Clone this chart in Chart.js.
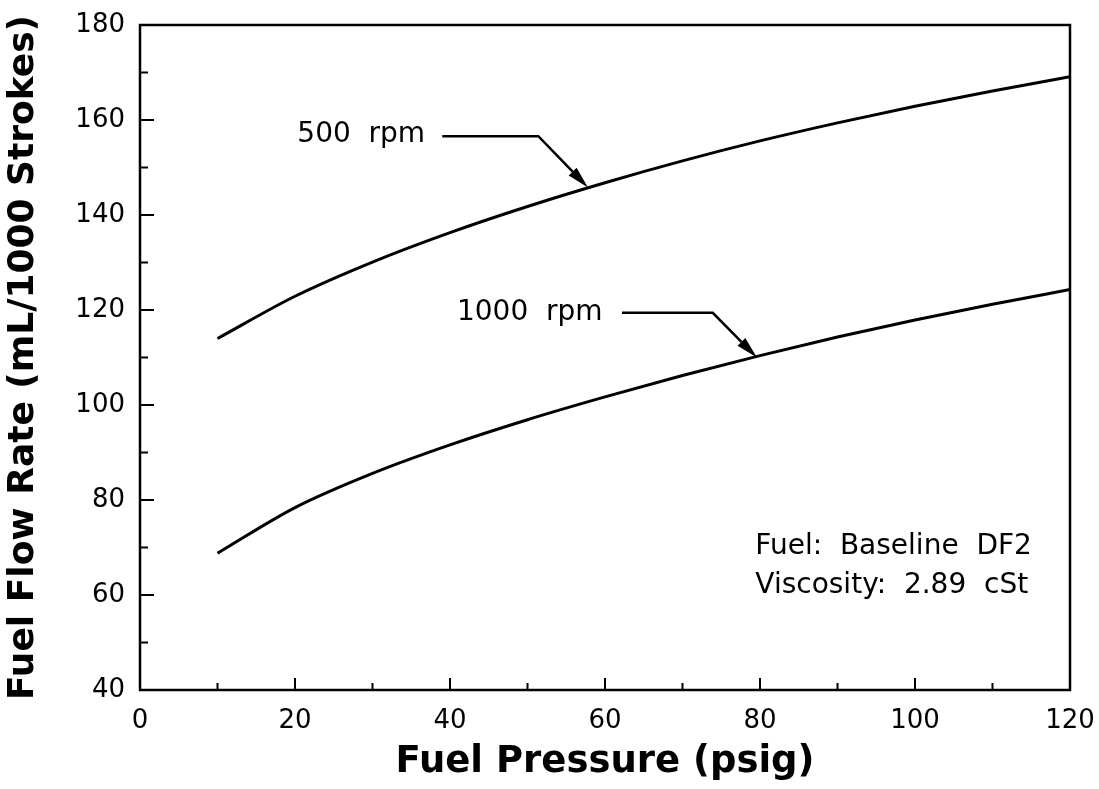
<!DOCTYPE html>
<html>
<head>
<meta charset="utf-8">
<script src="https://cdn.jsdelivr.net/npm/chart.js@4/dist/chart.umd.min.js"></script>
<style>
  html, body { margin: 0; padding: 0; background: #fff; }
  #wrap { width: 1099px; height: 789px; }
</style>
</head>
<body>
<div id="wrap"><canvas id="c" width="1099" height="789"></canvas></div>
<script>
// ---- data ----
const pressure = [10, 20, 30, 40, 50, 60, 70, 80, 90, 100, 110, 120];
const rpm500  = [114.0, 122.9, 130.1, 136.3, 141.8, 146.8, 151.4, 155.6, 159.4, 162.9, 166.1, 169.1];
const rpm1000 = [68.8, 78.4, 85.6, 91.6, 96.9, 101.7, 106.2, 110.4, 114.3, 117.9, 121.2, 124.3];
const xTicks = [0, 20, 40, 60, 80, 100, 120];
const yTicks = [40, 60, 80, 100, 120, 140, 160, 180];
const seriesNames = ['500 rpm', '1000 rpm'];
const noteLines = ['Fuel:  Baseline  DF2', 'Viscosity:  2.89  cSt'];
const xTitle = 'Fuel Pressure (psig)';
const yTitle = 'Fuel Flow Rate (mL/1000 Strokes)';

// annotation anchor points (data coordinates)
const callouts = [
  { text: seriesNames[0], label: [20.3, 156.8], start: [39.0, 156.6], corner: [51.4, 156.6], tip: [57.8, 145.8] },
  { text: seriesNames[1], label: [40.9, 119.4], start: [62.2, 119.4], corner: [73.9, 119.4], tip: [79.6, 110.0] }
];
const noteAnchor = [79.4, 70.1];
const noteStep = -8.2;

const FONT = '"DejaVu Sans", "Liberation Sans", sans-serif';

const decor = {
  id: 'decor',
  afterDatasetsDraw(chart) {
    const ctx = chart.ctx;
    const xs = chart.scales.x, ys = chart.scales.y;
    const a = chart.chartArea;
    ctx.save();
    ctx.strokeStyle = '#000';
    ctx.fillStyle = '#000';
    // frame
    ctx.lineWidth = 2.5;
    ctx.strokeRect(a.left, a.top, a.right - a.left, a.bottom - a.top);
    // inward ticks
    ctx.lineWidth = 2;
    for (let v = 40; v <= 180; v += 10) {
      const y = ys.getPixelForValue(v);
      const len = (v % 20 === 0) ? 14 : 8;
      ctx.beginPath(); ctx.moveTo(a.left, y); ctx.lineTo(a.left + len, y); ctx.stroke();
    }
    for (let v = 0; v <= 120; v += 10) {
      const x = xs.getPixelForValue(v);
      const len = (v % 20 === 0) ? 12 : 7;
      ctx.beginPath(); ctx.moveTo(x, a.bottom); ctx.lineTo(x, a.bottom - len); ctx.stroke();
    }
    // callouts
    ctx.font = '28px ' + FONT;
    ctx.textBaseline = 'middle';
    ctx.textAlign = 'left';
    callouts.forEach(c => {
      const px = p => [xs.getPixelForValue(p[0]), ys.getPixelForValue(p[1])];
      const L = px(c.label), S = px(c.start), C = px(c.corner), T = px(c.tip);
      ctx.fillText(c.text.replace(' ', '  '), L[0], L[1]);
      ctx.lineWidth = 2.5;
      const ang = Math.atan2(T[1] - C[1], T[0] - C[0]);
      const headLen = 22, headW = 5.5;
      const bx = T[0] - headLen * Math.cos(ang), by = T[1] - headLen * Math.sin(ang);
      ctx.beginPath(); ctx.moveTo(S[0], S[1]); ctx.lineTo(C[0], C[1]); ctx.lineTo(bx, by); ctx.stroke();
      ctx.beginPath();
      ctx.moveTo(T[0], T[1]);
      ctx.lineTo(bx + headW * Math.sin(ang), by - headW * Math.cos(ang));
      ctx.lineTo(bx - headW * Math.sin(ang), by + headW * Math.cos(ang));
      ctx.closePath(); ctx.fill();
    });
    // note
    noteLines.forEach((t, i) => {
      ctx.fillText(t, xs.getPixelForValue(noteAnchor[0]), ys.getPixelForValue(noteAnchor[1] + i * noteStep));
    });
    ctx.restore();
  }
};

new Chart(document.getElementById('c'), {
  type: 'line',
  data: {
    datasets: [
      { label: seriesNames[0], data: pressure.map((x, i) => ({ x, y: rpm500[i] })) },
      { label: seriesNames[1], data: pressure.map((x, i) => ({ x, y: rpm1000[i] })) }
    ].map(d => Object.assign(d, {
      borderColor: '#000', borderWidth: 3, pointRadius: 0, cubicInterpolationMode: 'monotone', fill: false
    }))
  },
  options: {
    responsive: false,
    animation: false,
    devicePixelRatio: 1,
    layout: { padding: { left: 2, right: 29, top: 25, bottom: 4 } },
    plugins: { legend: { display: false }, tooltip: { enabled: false } },
    scales: {
      x: {
        type: 'linear', min: 0, max: 120,
        afterBuildTicks: s => { s.ticks = xTicks.map(v => ({ value: v })); },
        afterFit: s => { s.height = 789 - 690 - 4; s.paddingLeft = 0; s.paddingRight = 0; },
        grid: { display: false, drawTicks: false },
        border: { display: false },
        ticks: { color: '#000', font: { family: FONT, size: 26 }, padding: 16, maxRotation: 0 },
        title: { display: true, text: xTitle, color: '#000', font: { family: FONT, size: 37, weight: 'bold' }, padding: { top: 0, bottom: 0 } }
      },
      y: {
        type: 'linear', min: 40, max: 180,
        afterBuildTicks: s => { s.ticks = yTicks.map(v => ({ value: v })); },
        afterFit: s => { s.width = 140 - 2; s.paddingTop = 0; s.paddingBottom = 0; },
        grid: { display: false, drawTicks: false },
        border: { display: false },
        ticks: { color: '#000', font: { family: FONT, size: 26 }, padding: 15 },
        title: { display: true, text: yTitle, color: '#000', font: { family: FONT, size: 36, weight: 'bold' }, padding: { top: 0, bottom: 2 } }
      }
    }
  },
  plugins: [decor]
});
</script>
</body>
</html>
